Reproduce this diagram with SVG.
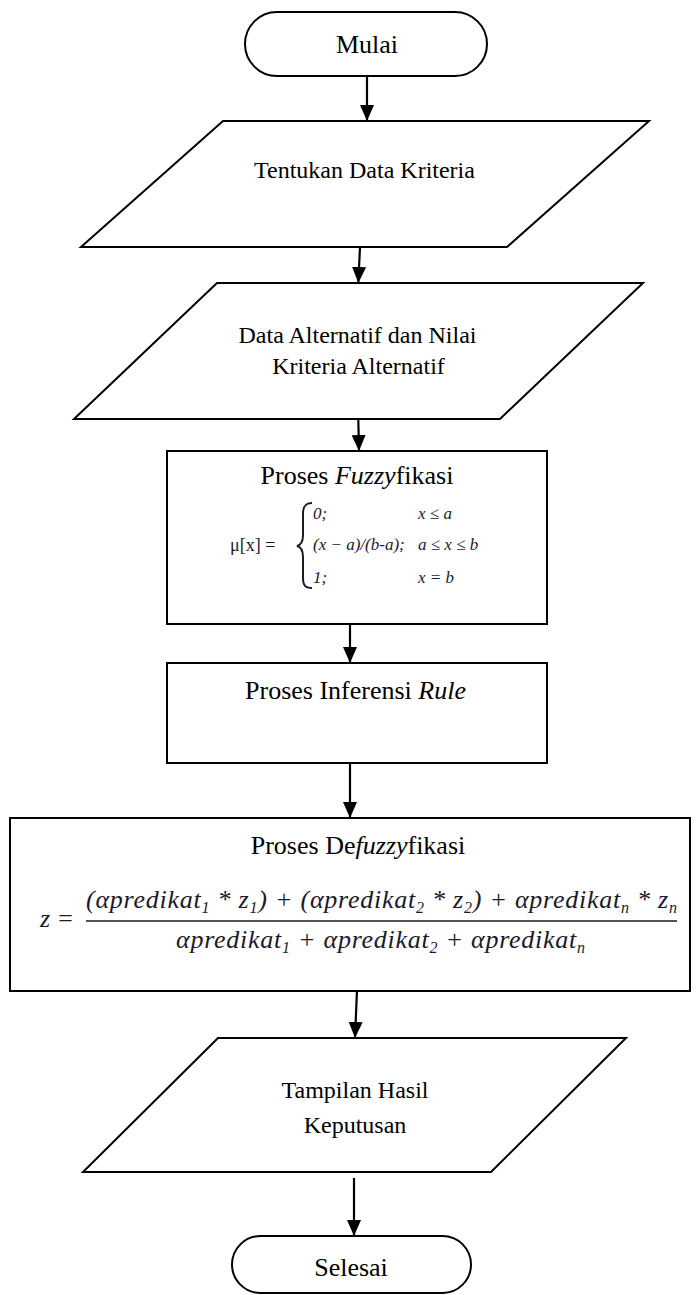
<svg xmlns="http://www.w3.org/2000/svg" width="697" height="1295" viewBox="0 0 697 1295">
<style>
.shape{fill:#fff;stroke:#000;stroke-width:2}
.lbl{font-family:"Liberation Serif",serif;fill:#000;text-anchor:middle}
.t26{font-size:26px}
.t24{font-size:24px}
.math{font-family:"Liberation Serif",serif;font-style:italic;fill:#1a1a2a}
.conn{stroke:#000;stroke-width:2.2;fill:none}
.brace{stroke:#1a1a2a;stroke-width:2;fill:none}
</style>
<defs>
<marker id="ah" markerUnits="userSpaceOnUse" markerWidth="16" markerHeight="14" refX="16" refY="7" orient="auto">
<path d="M0,0 L16,7 L0,14 z" fill="#000"/>
</marker>
</defs>
<g id="connectors">
<line class="conn" x1="367" y1="76" x2="367" y2="121" marker-end="url(#ah)"/>
<line class="conn" x1="360" y1="247" x2="358.3" y2="283" marker-end="url(#ah)"/>
<line class="conn" x1="358.3" y1="419" x2="359" y2="451" marker-end="url(#ah)"/>
<line class="conn" x1="350" y1="608" x2="350" y2="663" marker-end="url(#ah)"/>
<line class="conn" x1="350" y1="763" x2="350" y2="818" marker-end="url(#ah)"/>
<line class="conn" x1="357.3" y1="983" x2="355" y2="1038" marker-end="url(#ah)"/>
<line class="conn" x1="354" y1="1178" x2="354" y2="1236" marker-end="url(#ah)"/>
</g>
<g id="mulai">
<rect class="shape" x="245" y="12" width="242" height="64" rx="32" ry="32"/>
<text class="lbl t26" x="367" y="53" font-family="Liberation Serif, serif">Mulai</text>
</g>
<g id="tentukan-data">
<polygon class="shape" points="223,121 649,121 507,247 81,247"/>
<text class="lbl t24" x="364.5" y="178" font-family="Liberation Serif, serif">Tentukan Data Kriteria</text>
</g>
<g id="data-alternatif">
<polygon class="shape" points="217,283 643,283 500,419 74,419"/>
<text class="lbl t24" x="357.5" y="343" font-family="Liberation Serif, serif">Data Alternatif dan Nilai</text>
<text class="lbl t24" x="358.5" y="374" font-family="Liberation Serif, serif">Kriteria Alternatif</text>
</g>
<g id="fuzzyfikasi">
<rect class="shape" x="167" y="451" width="380" height="173"/>
<text class="lbl t26" x="357" y="484" font-family="Liberation Serif, serif">Proses <tspan font-style="italic">Fuzzy</tspan>fikasi</text>
<text x="230" y="551" font-family="Liberation Serif, serif" font-size="18" fill="#1a1a2a">μ[x] =</text>
<path class="brace" d="M312,503 C305,503 303,507 303,514 L303,535 C303,542 301,545 297,546 C301,547 303,550 303,557 L303,578 C303,585 305,588 312,588"/>
<text class="math" font-size="17" x="313" y="519" font-family="Liberation Serif, serif">0;</text>
<text class="math" font-size="17" x="418" y="519" font-family="Liberation Serif, serif">x ≤ a</text>
<text class="math" font-size="17" x="313" y="550" font-family="Liberation Serif, serif">(x − a)/(b-a);</text>
<text class="math" font-size="17" x="418" y="550" font-family="Liberation Serif, serif">a ≤ x ≤ b</text>
<text class="math" font-size="17" x="313" y="583" font-family="Liberation Serif, serif">1;</text>
<text class="math" font-size="17" x="418" y="583" font-family="Liberation Serif, serif">x = b</text>
</g>
<g id="inferensi">
<rect class="shape" x="167" y="663" width="380" height="100"/>
<text class="lbl t26" x="355.5" y="699" font-family="Liberation Serif, serif">Proses Inferensi <tspan font-style="italic">Rule</tspan></text>
</g>
<g id="defuzzyfikasi">
<rect class="shape" x="10" y="818" width="680" height="173"/>
<text class="lbl t26" x="358" y="854" font-family="Liberation Serif, serif">Proses De<tspan font-style="italic">fuzzy</tspan>fikasi</text>
<text class="math" font-size="26" x="40" y="927" font-family="Liberation Serif, serif">z =</text>
<text class="math" font-size="26" x="86" y="908" textLength="591" font-family="Liberation Serif, serif">(αpredikat<tspan font-size="16" dy="5">1</tspan><tspan dy="-5"> * z</tspan><tspan font-size="16" dy="5">1</tspan><tspan dy="-5">) + (αpredikat</tspan><tspan font-size="16" dy="5">2</tspan><tspan dy="-5"> * z</tspan><tspan font-size="16" dy="5">2</tspan><tspan dy="-5">) + αpredikat</tspan><tspan font-size="16" dy="5">n</tspan><tspan dy="-5"> * z</tspan><tspan font-size="16" dy="5">n</tspan></text>
<line x1="86" y1="921" x2="677" y2="921" stroke="#1a1a2a" stroke-width="1.6"/>
<text class="math" font-size="26" x="176" y="948" textLength="409" font-family="Liberation Serif, serif">αpredikat<tspan font-size="16" dy="5">1</tspan><tspan dy="-5"> + αpredikat</tspan><tspan font-size="16" dy="5">2</tspan><tspan dy="-5"> + αpredikat</tspan><tspan font-size="16" dy="5">n</tspan></text>
</g>
<g id="tampilan-hasil">
<polygon class="shape" points="218,1038 626,1038 491,1172 83,1172"/>
<text class="lbl t24" x="355" y="1098" font-family="Liberation Serif, serif">Tampilan Hasil</text>
<text class="lbl t24" x="355" y="1133" font-family="Liberation Serif, serif">Keputusan</text>
</g>
<g id="selesai">
<rect class="shape" x="232" y="1236" width="239" height="57" rx="28.5" ry="28.5"/>
<text class="lbl t26" x="351" y="1276" font-family="Liberation Serif, serif">Selesai</text>
</g>
</svg>
